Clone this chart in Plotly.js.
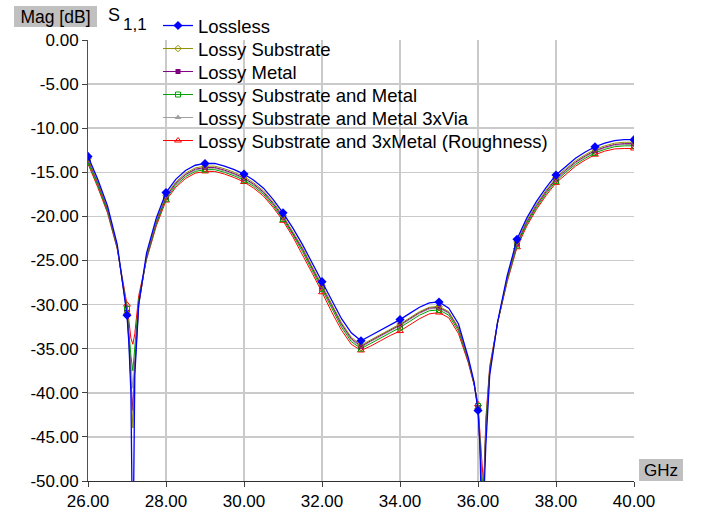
<!DOCTYPE html>
<html><head><meta charset="utf-8">
<script src="https://cdn.plot.ly/plotly-3.0.1.min.js"></script>
<style>html,body{margin:0;padding:0;background:#fff;}#chart{width:703px;height:514px;}</style>
</head><body><div id="chart"></div>
<script>
// Frequency points (GHz)
const freq = [26, 26.25, 26.5, 26.75, 27, 27.05, 27.1, 27.15, 27.2, 27.3, 27.5, 27.75, 28, 28.25, 28.5, 28.75, 29, 29.25, 29.5, 29.75, 30, 30.25, 30.5, 30.75, 31, 31.25, 31.5, 31.75, 32, 32.25, 32.5, 32.75, 33, 33.25, 33.5, 33.75, 34, 34.25, 34.5, 34.75, 35, 35.25, 35.5, 35.75, 35.9, 36, 36.05, 36.1, 36.15, 36.2, 36.3, 36.5, 36.75, 37, 37.25, 37.5, 37.75, 38, 38.25, 38.5, 38.75, 39, 39.25, 39.5, 39.75, 40];

// |S11| in dB
const lossless = [-13.2, -15.8, -18.8, -23.2, -31.2, -34.5, -40, -60, -38, -30, -24.2, -20.2, -17.3, -15.8, -14.8, -14.2, -14.0, -14.0, -14.3, -14.7, -15.2, -15.9, -16.8, -18.1, -19.6, -21.3, -23.2, -25.3, -27.4, -29.6, -31.6, -33.2, -34.1, -33.5, -32.9, -32.3, -31.7, -31.0, -30.3, -29.8, -29.7, -30.4, -32.2, -36.0, -38.8, -42.0, -46, -56, -52, -46, -38, -32, -26.7, -22.6, -20.2, -18.3, -16.7, -15.3, -14.3, -13.4, -12.7, -12.1, -11.7, -11.4, -11.3, -11.3];
const lossySubstrate = [-13.45, -16.05, -19.05, -23.4, -31.0, -34.3, -39, -44, -37.5, -30.1, -24.45, -20.5, -17.6, -16.1, -15.1, -14.5, -14.3, -14.3, -14.6, -15.0, -15.5, -16.2, -17.1, -18.4, -19.9, -21.65, -23.55, -25.7, -27.8, -30.0, -32.05, -33.7, -34.6, -34.0, -33.4, -32.8, -32.2, -31.5, -30.8, -30.3, -30.2, -30.8, -32.6, -36.2, -38.9, -41.8, -45.5, -50, -51, -45, -37.8, -32.1, -26.9, -22.9, -20.5, -18.6, -17.0, -15.6, -14.6, -13.7, -13.0, -12.4, -12.0, -11.7, -11.6, -11.6];
const lossyMetal = [-13.6, -16.2, -19.2, -23.5, -30.9, -34.0, -38.5, -42, -37.0, -30.0, -24.6, -20.65, -17.75, -16.25, -15.25, -14.65, -14.45, -14.45, -14.75, -15.15, -15.65, -16.35, -17.25, -18.55, -20.05, -21.8, -23.7, -25.85, -27.95, -30.15, -32.2, -33.85, -34.75, -34.1, -33.5, -32.9, -32.3, -31.6, -30.9, -30.4, -30.3, -30.9, -32.7, -36.3, -39.0, -41.7, -45.5, -51, -50, -44.5, -37.6, -32.1, -27.0, -23.05, -20.65, -18.75, -17.15, -15.75, -14.75, -13.85, -13.15, -12.55, -12.15, -11.85, -11.75, -11.75];
const lossySubMetal = [-13.9, -16.5, -19.45, -23.6, -30.5, -33.2, -35.8, -37.5, -35.0, -29.5, -24.8, -20.9, -18.0, -16.5, -15.5, -14.9, -14.7, -14.7, -15.0, -15.4, -15.9, -16.6, -17.5, -18.8, -20.3, -22.05, -24.0, -26.15, -28.25, -30.5, -32.55, -34.2, -35.0, -34.4, -33.8, -33.2, -32.6, -31.9, -31.2, -30.7, -30.6, -31.2, -33.0, -36.4, -39.0, -41.5, -45, -49.5, -51, -43.5, -37.3, -32.1, -27.2, -23.3, -20.9, -19.0, -17.4, -16.0, -15.0, -14.1, -13.4, -12.8, -12.4, -12.1, -12.0, -12.0];
const lossySubMetal3xVia = [-13.75, -16.35, -19.3, -23.55, -30.7, -33.6, -37.0, -39.5, -36.0, -29.8, -24.7, -20.75, -17.85, -16.35, -15.35, -14.75, -14.55, -14.55, -14.85, -15.25, -15.75, -16.45, -17.35, -18.65, -20.15, -21.9, -23.8, -25.95, -28.05, -30.3, -32.35, -34.0, -34.85, -34.2, -33.6, -33.0, -32.4, -31.7, -31.0, -30.5, -30.4, -31.0, -32.8, -36.3, -39.0, -41.6, -45, -50, -50.5, -44, -37.5, -32.1, -27.1, -23.15, -20.75, -18.85, -17.25, -15.85, -14.85, -13.95, -13.25, -12.65, -12.25, -11.95, -11.85, -11.85];
const lossyRoughness = [-14.05, -16.7, -19.6, -23.7, -30.0, -32.2, -33.8, -34.5, -33.3, -29.0, -24.9, -21.1, -18.2, -16.7, -15.7, -15.1, -14.9, -14.9, -15.2, -15.6, -16.1, -16.8, -17.7, -19.0, -20.5, -22.3, -24.3, -26.45, -28.6, -30.85, -32.9, -34.5, -35.2, -34.7, -34.1, -33.5, -33.0, -32.3, -31.6, -31.05, -30.9, -31.5, -33.3, -36.6, -39.1, -41.3, -44.5, -48.5, -51, -43, -37.0, -32.1, -27.4, -23.5, -21.1, -19.2, -17.6, -16.2, -15.2, -14.3, -13.6, -13.0, -12.6, -12.35, -12.3, -12.3];

const seriesNames = ["Lossless", "Lossy Substrate", "Lossy Metal", "Lossy Substrate and Metal", "Lossy Substrate and Metal 3xVia", "Lossy Substrate and 3xMetal (Roughness)"];
const seriesValues = [lossless, lossySubstrate, lossyMetal, lossySubMetal, lossySubMetal3xVia, lossyRoughness];

const xTickVals = [26, 28, 30, 32, 34, 36, 38, 40];
const yTickVals = [0, -5, -10, -15, -20, -25, -30, -35, -40, -45, -50];

// styles
const styles = [
  {color: '#0000ff', symbol: 'diamond', size: 7, lw: 0, width: 1.3},
  {color: '#909000', symbol: 'diamond-open', size: 5, lw: 1, width: 1},
  {color: '#800080', symbol: 'square', size: 5, lw: 0, width: 1},
  {color: '#00a000', symbol: 'square-open', size: 5, lw: 1, width: 1},
  {color: '#a0a0a0', symbol: 'triangle-up', size: 6, lw: 0, width: 1},
  {color: '#ff0000', symbol: 'triangle-up-open', size: 6, lw: 1, width: 1}
];

// plot area in pixels
const PL = 88, PR = 634, PT = 40, PB = 481;
const px2x = p => (p - PL) / (PR - PL);
const py2y = p => (PB - p) / (PB - PT);

const markerIdx = freq.map((f, i) => Number.isInteger(f) ? i : -1).filter(i => i >= 0);
const FONT = 'Liberation Sans, Arial, sans-serif';

const traces = [];
for (let i = seriesNames.length - 1; i >= 0; i--) {
  const s = styles[i];
  traces.push({
    type: 'scatter', mode: 'lines+markers',
    x: freq, y: seriesValues[i], name: seriesNames[i],
    legend: i === 0 ? 'legend' : 'legend' + (i + 1),
    line: {color: s.color, width: s.width},
    marker: {symbol: s.symbol, size: s.size, color: s.color, line: {color: s.color, width: s.lw}},
    selectedpoints: markerIdx,
    selected: {marker: {opacity: 1}},
    unselected: {marker: {opacity: 0}},
    hoverinfo: 'skip'
  });
}

const layout = {
  width: 703, height: 514,
  margin: {l: PL, r: 703 - PR, t: PT, b: 514 - PB, pad: 0, autoexpand: false},
  paper_bgcolor: '#ffffff', plot_bgcolor: '#ffffff',
  font: {family: FONT, size: 17, color: '#000'},
  showlegend: true,
  xaxis: {
    range: [26, 40], tickmode: 'array', tickvals: xTickVals, ticktext: xTickVals.map(v => v.toFixed(2)),
    ticks: 'outside', ticklen: 5, tickcolor: '#404040', showline: true, linecolor: '#303030', linewidth: 1,
    showgrid: true, gridcolor: '#cacaca', gridwidth: 1.5, zeroline: false, tickfont: {family: FONT, size: 17, color: '#000'},
    fixedrange: true
  },
  yaxis: {
    range: [-50, 0], tickmode: 'array', tickvals: yTickVals, ticktext: yTickVals.map(v => v.toFixed(2)),
    ticks: 'outside', ticklen: 5, tickcolor: '#404040', showline: true, linecolor: '#505050', linewidth: 1,
    showgrid: true, gridcolor: '#cacaca', gridwidth: 1.5, zeroline: false, tickfont: {family: FONT, size: 17, color: '#000'},
    fixedrange: true
  },
  annotations: [
    {xref: 'paper', yref: 'paper', x: px2x(14), y: py2y(6), xanchor: 'left', yanchor: 'top',
     text: 'Mag [dB]', showarrow: false, bgcolor: '#c0c0c0', borderpad: 0, borderwidth: 0, width: 83, height: 21,
     font: {family: FONT, size: 17.5, color: '#000'}},
    {xref: 'paper', yref: 'paper', x: px2x(108), y: py2y(15.5), xanchor: 'left', yanchor: 'middle',
     text: 'S', showarrow: false, borderpad: 0, borderwidth: 0, font: {family: FONT, size: 18, color: '#000'}},
    {xref: 'paper', yref: 'paper', x: px2x(123), y: py2y(24), xanchor: 'left', yanchor: 'middle',
     text: '1,1', showarrow: false, borderpad: 0, borderwidth: 0, font: {family: FONT, size: 17, color: '#000'}},
    {xref: 'paper', yref: 'paper', x: px2x(639), y: py2y(481), xanchor: 'left', yanchor: 'bottom',
     text: 'GHz', showarrow: false, bgcolor: '#c0c0c0', borderpad: 0, borderwidth: 0, width: 44, height: 22,
     font: {family: FONT, size: 17, color: '#000'}}
  ]
};

for (let i = 0; i < seriesNames.length; i++) {
  const key = i === 0 ? 'legend' : 'legend' + (i + 1);
  layout[key] = {
    x: px2x(158), xanchor: 'left', y: py2y(26 + 23 * i), yanchor: 'middle',
    bgcolor: 'rgba(0,0,0,0)', borderwidth: 0, itemwidth: 30,
    font: {family: FONT, size: 18.5, color: '#000'}
  };
}

Plotly.newPlot('chart', traces, layout, {displayModeBar: false, staticPlot: true});
</script>
</body></html>
